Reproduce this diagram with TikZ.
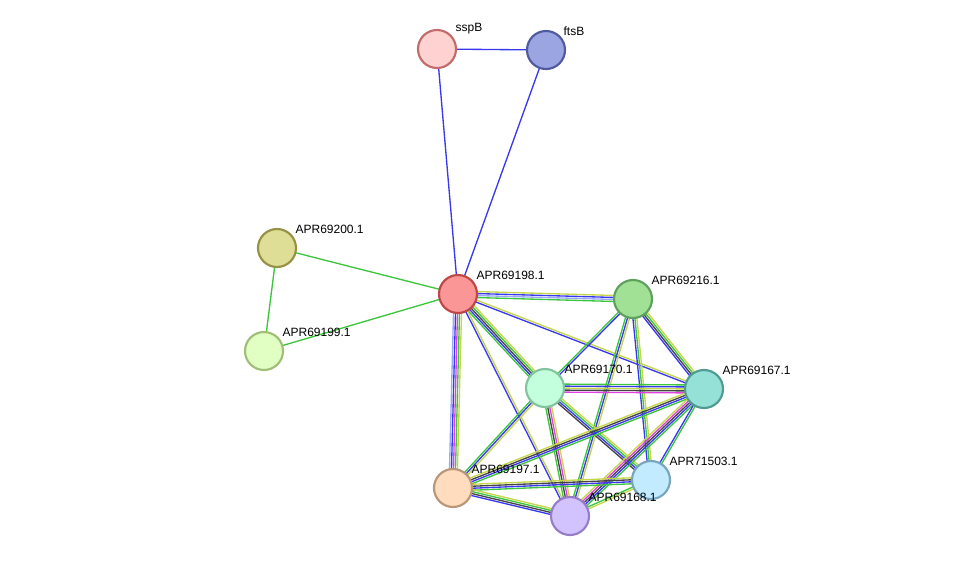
\documentclass[tikz,border=0pt]{standalone}
\usepackage{fontspec}
\setmainfont{Liberation Sans}
\usetikzlibrary{calc,backgrounds}
\definecolor{eg}{HTML}{3CC63C}
\definecolor{eb}{HTML}{3838F0}
\definecolor{ey}{HTML}{C5D64A}
\definecolor{em}{HTML}{E040E0}
\definecolor{ek}{HTML}{444444}
\definecolor{el}{HTML}{9AA8F5}
\tikzset{
  prot/.style={circle,minimum size=28.5pt,inner sep=0pt,line width=1.6pt},
  lab/.style={anchor=south west,font=\fontsize{9}{10}\selectfont,inner sep=1pt},
  ed/.style={line width=1pt}
}
\newcommand\sedge[3]{%
  \foreach \c [count=\n] in {#3}{\xdef\nn{\n}}%
  \foreach \c [count=\i] in {#3}{%
    \pgfmathsetmacro\o{(\i-(\nn+1)/2)*1.5}%
    \draw[ed,\c] ($(#1.center)!\o pt!90:(#2.center)$) -- ($(#2.center)!\o pt!-90:(#1.center)$);
  }%
}
\begin{document}
\begin{tikzpicture}[x=0.75pt,y=-0.75pt]
\useasboundingbox (0,0) rectangle (975,562);
\node[prot,draw=black!30!pink!80!red,fill=pink!70] (sspB) at (437,49) {};
\node[prot,draw={rgb,255:red,80;green,90;blue,160},fill={rgb,255:red,155;green,165;blue,225}] (ftsB) at (546,50) {};
\node[prot,draw={rgb,255:red,150;green,145;blue,70},fill={rgb,255:red,222;green,222;blue,150}] (a200) at (277,248) {};
\node[prot,draw={rgb,255:red,160;green,190;blue,120},fill={rgb,255:red,225;green,255;blue,195}] (a199) at (264,351) {};
\node[prot,draw={rgb,255:red,190;green,70;blue,70},fill={rgb,255:red,250;green,150;blue,150}] (a198) at (458,294) {};
\node[prot,draw={rgb,255:red,95;green,160;blue,95},fill={rgb,255:red,160;green,225;blue,150}] (a216) at (633,299) {};
\node[prot,draw={rgb,255:red,130;green,195;blue,160},fill={rgb,255:red,195;green,255;blue,220}] (a170) at (545,388) {};
\node[prot,draw={rgb,255:red,80;green,155;blue,145},fill={rgb,255:red,150;green,225;blue,215}] (a167) at (704,389) {};
\node[prot,draw={rgb,255:red,185;green,150;blue,120},fill={rgb,255:red,255;green,220;blue,190}] (a197) at (453,488) {};
\node[prot,draw={rgb,255:red,120;green,165;blue,190},fill={rgb,255:red,195;green,235;blue,255}] (a503) at (651,480) {};
\node[prot,draw={rgb,255:red,150;green,125;blue,200},fill={rgb,255:red,210;green,195;blue,255}] (a168) at (570,516) {};
\node[lab] at (454,36) {sspB};
\node[lab] at (562,37) {ftsB};
\node[lab] at (294,235) {APR69200.1};
\node[lab] at (281,338) {APR69199.1};
\node[lab] at (475,281) {APR69198.1};
\node[lab] at (650,286) {APR69216.1};
\node[lab] at (563,375) {APR69170.1};
\node[lab] at (721,376) {APR69167.1};
\node[lab] at (470,475) {APR69197.1};
\node[lab] at (668,467) {APR71503.1};
\node[lab] at (587,503) {APR69168.1};
\begin{scope}[on background layer]
\sedge{sspB}{ftsB}{eb}
\sedge{sspB}{a198}{eb}
\sedge{ftsB}{a198}{eb}
\sedge{a200}{a198}{eg}
\sedge{a200}{a199}{eg}
\sedge{a199}{a198}{eg}
\sedge{a198}{a216}{eg,el,eb,ey}
\sedge{a198}{a170}{eg,eb,ek,eg,ey}
\sedge{a198}{a167}{eb,ey}
\sedge{a198}{a197}{el,eb,em,eg,ey}
\sedge{a198}{a168}{eb,ey}
\sedge{a216}{a170}{eg,eb}
\sedge{a216}{a168}{eg,eb,ey}
\sedge{a216}{a503}{eb,eg,ey}
\sedge{a216}{a167}{eb,ek,eg,ey}
\sedge{a170}{a167}{em,ek,ey,eb,eg}
\sedge{a170}{a197}{eg,eb,ey}
\sedge{a170}{a168}{eg,ek,em,ey}
\sedge{a170}{a503}{ek,eb,eg,ey}
\sedge{a167}{a197}{ey,ek,eb,eg}
\sedge{a167}{a168}{ey,em,ek,eb,eg}
\sedge{a167}{a503}{eb,eg}
\sedge{a197}{a503}{eg,eb,ek,ey}
\sedge{a197}{a168}{eb,ek,eg,ey}
\sedge{a168}{a503}{ey,eg}
\end{scope}
\end{tikzpicture}
\end{document}
